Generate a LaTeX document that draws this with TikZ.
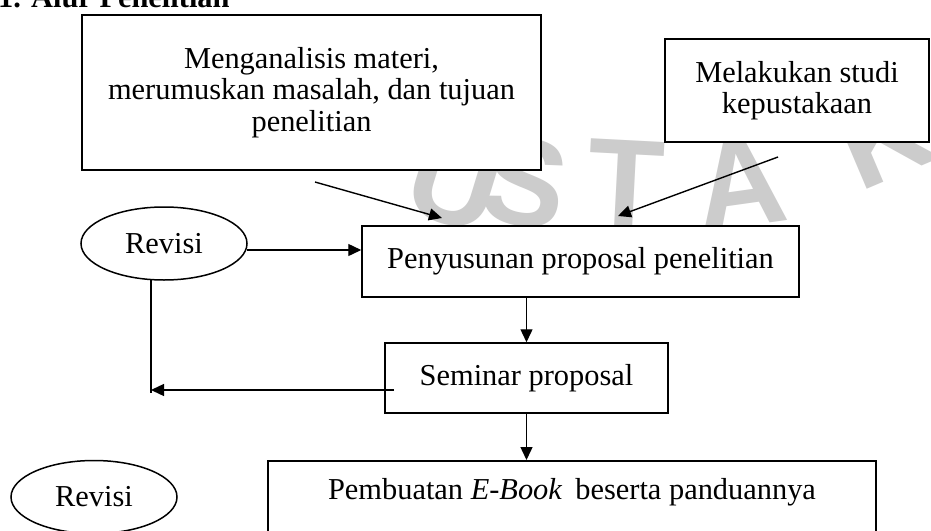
\documentclass[tikz,border=0pt]{standalone}
\usepackage{fontspec}
\setmainfont{Liberation Serif}
\newfontfamily\wmfont{Liberation Sans}
\usetikzlibrary{arrows.meta,shapes.geometric}
\begin{document}
\begin{tikzpicture}[x=1pt,y=-1pt,
  txt/.style={font=\fontsize{30.4}{31.5}\selectfont},
  box/.style={txt, draw, line width=1.5pt, fill=white, inner sep=0pt, align=center},
  oval/.style={txt, draw, ellipse, line width=1.5pt, fill=white, inner sep=0pt, minimum width=166pt, minimum height=73pt},
  conn/.style={line width=1.4pt},
  arr/.style={conn, -{Triangle[length=13pt,width=12pt]}},
  wm/.style={text=black!20, font=\wmfont\bfseries\fontsize{125}{125}\selectfont, inner sep=0pt}
]
\fill[white] (0,0) rectangle (931,530);
\useasboundingbox (0,0) rectangle (931,530);

% watermark
\node[wm, rotate=-17] (wu) at (455,182) {U};
\node[wm, rotate=-10] (ws) at (525,182) {S};
\node[wm, rotate=-3]  (wt) at (626,184) {T};
\node[wm, rotate=8]   (wa) at (740,184) {A};
\node[wm, rotate=23]  (wk) at (884,135) {K};

% title (cut at top)
\node[anchor=base west, inner sep=0pt, font=\bfseries\fontsize{30.4}{31}\selectfont] (title) at (-2,8) {1. Alur Penelitian};

% boxes
\node[box, minimum width=459pt, minimum height=155pt] (m1) at (311.5,92.5)
  {Menganalisis materi,\\ merumuskan masalah, dan tujuan\\ penelitian};
\node[box, minimum width=264pt, minimum height=103pt] (m2) at (797,90.5)
  {Melakukan studi\\ kepustakaan};
\node[box, minimum width=437pt, minimum height=71pt] (p) at (580.5,261.5)
  {Penyusunan proposal penelitian};
\node[box, minimum width=283pt, minimum height=70pt] (s) at (526.5,378)
  {Seminar proposal};
\node[box, minimum width=608pt, minimum height=100pt, anchor=north] (e) at (572,460) {};
\node[txt, anchor=base, inner sep=0pt] (et) at (572,499)
  {Pembuatan \textit{E-Book}\hspace{13pt}beserta panduannya};

\node[oval] (r1) at (164,243.5) {Revisi};
\node[oval] (r2) at (94,497) {Revisi};

% connectors
\coordinate (a1s) at (315,182); \coordinate (a1e) at (442,218);
\coordinate (a2s) at (778,157); \coordinate (a2e) at (618,216);
\draw[arr] (a1s) -- (a1e);
\draw[arr] (a2s) -- (a2e);

\coordinate (r1o) at (247,250);
\draw[arr] (r1o) -- (r1o -| p.west);

\coordinate (v1) at (151,279.5);
\coordinate (v2) at (151,393);
\draw[conn] (v1) -- (v2);
\coordinate (sa) at (394,390);
\draw[arr] (sa) -- (sa -| v1);

\draw[arr] (s.north |- p.south) -- (s.north);
\draw[arr] (s.south) -- (s.south |- e.north);
\end{tikzpicture}
\end{document}
